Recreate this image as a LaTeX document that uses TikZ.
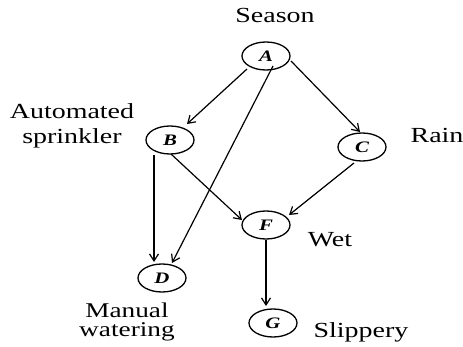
\documentclass[tikz,border=0pt]{standalone}
\usepackage{fontspec}
\newfontfamily\lblfont[FakeStretch=1.3]{Liberation Serif}
\usetikzlibrary{arrows.meta,calc,shapes.geometric}
\begin{document}
\lineskiplimit=-100pt\relax
\begin{tikzpicture}[x=1pt,y=-1pt,
  var/.style={ellipse,draw,line width=1.3pt,minimum width=48pt,minimum height=28pt,inner sep=0pt,
    font=\lblfont\fontsize{16}{16}\selectfont\bfseries\itshape},
  lbl/.style={font=\lblfont\fontsize{21.5}{25}\selectfont,align=center,inner sep=0pt},
  arr/.style={-{Straight Barb[length=7pt,width=9pt,line width=1.2pt]},line width=1.2pt}]
\useasboundingbox (0,0) rectangle (463,347);
% variables
\node[var] (A) at (266,56) {A};
\node[var] (B) at (170,140) {B};
\node[var] (C) at (362,147) {C};
\node[var] (F) at (266,225) {F};
\node[var] (D) at (162,278) {D};
\node[var] (G) at (273,323) {G};
% labels
\node[lbl,anchor=base] (lA) at (275,23) {Season};
\node[lbl] (lB) at (72,126) {Automated\\sprinkler};
\node[lbl,anchor=base] (lC) at (437,143) {Rain};
\node[lbl,anchor=base] (lF) at (330,247) {Wet};
\node[lbl,font=\lblfont\fontsize{21}{19}\selectfont] (lD) at (127,322) {Manual\\watering};
\node[lbl,anchor=base] (lG) at (361,337) {Slippery};
% edges
\draw[arr] ($(A.center)+(-19,13)$) -- ($(B.center)+(17,-16)$);
\draw[arr] ($(A.center)+(7,10)$) -- ($(D.center)+(10,-15)$);
\draw[arr] ($(A.center)+(25,5)$) -- ($(C.center)+(-2,-15)$);
\draw[arr] ($(B.center)+(-16,15)$) -- ($(D.center)+(-8,-16)$);
\draw[arr] ($(B.center)+(1,14)$) -- ($(F.center)+(-24,-5)$);
\draw[arr] ($(C.center)+(-8,16)$) -- ($(F.center)+(23,-10)$);
\draw[arr] ($(F.center)+(0,15)$) -- ($(G.center)+(-7,-17)$);
\end{tikzpicture}
\end{document}
